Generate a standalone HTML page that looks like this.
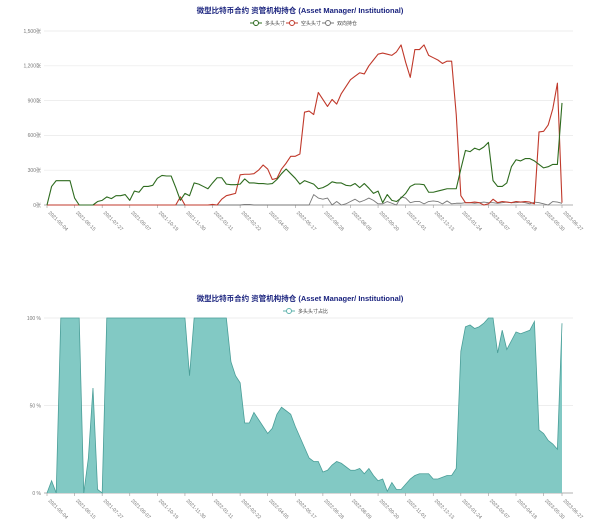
<!DOCTYPE html>
<html><head><meta charset="utf-8">
<style>
html,body{margin:0;padding:0;background:#fff;}
svg{display:block;font-family:"Liberation Sans","Noto Sans CJK SC",sans-serif;}
</style></head>
<body>
<svg id="c" width="600" height="526" viewBox="0 0 600 526"></svg>
<script>
const dates=["2021-05-04","2021-06-15","2021-07-27","2021-09-07","2021-10-19","2021-11-30","2022-01-11","2022-02-22","2022-04-05","2022-05-17","2022-06-28","2022-08-09","2022-09-20","2022-11-01","2022-12-13","2023-01-24","2023-03-07","2023-04-18","2023-05-30","2023-06-27"];
const tickIdx=[0,6,12,18,24,30,36,42,48,54,60,66,72,78,84,90,96,102,108,112];
const yTicks1=[0,300,600,900,1200,1500];
const yTickLabels1=["0张","300张","600张","900张","1,200张","1,500张"];
const yTicks2=[0,50,100];
const yTickLabels2=["0 %","50 %","100 %"];
const longPos=[0,160,210,210,210,210,60,0,0,0,0,30,40,70,55,80,80,90,40,120,110,160,160,170,230,255,250,250,150,40,100,80,190,180,160,140,190,235,235,180,175,175,180,225,190,190,185,185,180,185,220,270,310,270,230,180,210,195,180,140,150,170,200,190,190,170,165,185,150,185,145,100,120,20,90,40,30,60,100,160,180,180,175,110,110,120,130,140,140,140,310,470,460,490,475,500,540,210,160,160,190,330,390,380,400,400,380,350,320,330,350,350,880];
const shortPos=[0,0,0,0,0,0,0,0,0,0,0,0,0,0,0,0,0,0,0,0,0,0,0,0,0,0,0,0,0,70,0,0,0,0,0,0,5,0,50,80,90,100,260,265,265,270,300,345,310,220,230,310,360,420,420,440,800,810,780,970,910,850,910,870,960,1020,1080,1110,1140,1130,1200,1250,1300,1310,1300,1290,1320,1380,1230,1100,1340,1340,1380,1290,1270,1250,1220,1240,1240,780,80,20,20,25,20,0,10,50,20,30,25,20,30,25,30,25,10,630,635,690,830,1050,20];
const spreadPos=[0,0,0,0,0,0,0,0,0,0,0,0,0,0,0,0,0,0,0,0,0,0,0,0,0,0,0,0,0,0,0,0,0,0,0,0,0,0,0,0,0,0,0,5,5,0,0,0,0,0,0,0,0,0,0,0,0,0,90,60,50,60,0,30,0,10,30,50,25,40,60,40,10,10,30,15,0,70,60,20,30,30,10,30,35,30,10,35,10,15,15,20,20,15,20,25,20,20,15,20,25,20,20,25,20,10,25,20,10,0,30,25,15];
const longPct=[0,7,0,100,100,100,100,100,0,20,60,2,0,100,100,100,100,100,100,100,100,100,100,100,100,100,100,100,100,100,100,67,100,100,100,100,100,100,100,100,75,67,63,40,40,46,42,38,34,37,45,49,47,45,38,32,26,20,18,18,12,13,16,18,17,15,13,13,14,11,14,10,7,8,1,6,2,2,5,8,10,11,11,11,8,8,9,10,10,14,81,95,96,94,95,97,100,100,80,93,82,87,92,91,92,93,98,36,34,30,28,25,97];

const NS="http://www.w3.org/2000/svg";
const svg=document.getElementById('c');
function mk(tag,attrs,parent){const e=document.createElementNS(NS,tag);for(const k in attrs)e.setAttribute(k,attrs[k]);(parent||svg).appendChild(e);return e;}
const X0=47,X1=562;
function xs(i,n){return X0+(X1-X0)*i/(n-1);}

function axes(g,top,bot,max,ticks,labels,prefix){
  const ys=v=>bot-(bot-top)*v/max;
  ticks.forEach((t,k)=>{
    const l=mk('line',{x1:X0-3,x2:573,y1:ys(t),y2:ys(t),stroke:t===0?'#999':'#e8e8e8','stroke-width':t===0?0.8:0.7},g);
    
    
    const tx=mk('text',{x:X0-6,y:ys(t)+1.8,'text-anchor':'end','font-size':5,fill:'#777'},g);
    tx.textContent=labels[k];
    
    
  });
  tickIdx.forEach((ti,k)=>{
    const x=xs(ti,113);
    const tk=mk('line',{x1:x,x2:x,y1:bot,y2:bot+3,stroke:'#999','stroke-width':0.6},g);
    
    
    const tx=mk('text',{x:x+1,y:bot+8,'font-size':5,fill:'#777',transform:`rotate(45 ${x+1} ${bot+8})`},g);
    tx.textContent=dates[k];
    
    
  });
  return ys;
}
function title(y,txt,name){
  const t=mk('text',{x:300,y:y,'text-anchor':'middle','font-size':7.5,'font-weight':'bold',fill:'#1a237e'});
  t.textContent=txt;
  
  
}
function legend(x,y,color,label,name){
  const g=mk('g',{});
  
  
  mk('line',{x1:x,x2:x+12,y1:y,y2:y,stroke:color,'stroke-width':1},g);
  mk('circle',{cx:x+6,cy:y,r:2.5,fill:'#fff',stroke:color,'stroke-width':1},g);
  const t=mk('text',{x:x+15,y:y+2,'font-size':5,fill:'#444'},g);
  t.textContent=label;
}
// Chart 1
title(13,'微型比特币合约 资管机构持仓 (Asset Manager/ Institutional)','chart1-title');
legend(250,23,'#2e6b1f','多头头寸','legend-long');
legend(286,23,'#c0392b','空头头寸','legend-short');
legend(322,23,'#777','双向持仓','legend-spread');
const g1=mk('g',{});


const ys1=axes(g1,31,205,1500,yTicks1,yTickLabels1,'chart1');
function line(arr,color,name,w){
  const d=arr.map((v,i)=>(i?'L':'M')+xs(i,arr.length).toFixed(2)+','+ys1(v).toFixed(2)).join('');
  const p=mk('path',{d:d,fill:'none',stroke:color,'stroke-width':w,'stroke-linejoin':'round'},g1);
  
  
}
line(spreadPos,'#777','line-spread',0.9);
line(shortPos,'#c0392b','line-short',1.1);
line(longPos,'#2e6b1f','line-long',1.1);
// Chart 2
title(301,'微型比特币合约 资管机构持仓 (Asset Manager/ Institutional)','chart2-title');
legend(283,311,'#5fb3ad','多头头寸占比','legend-long-pct');
const g2=mk('g',{});


const ys2=axes(g2,318,493,100,yTicks2,yTickLabels2,'chart2');
let d2=longPct.map((v,i)=>(i?'L':'M')+xs(i,longPct.length).toFixed(2)+','+ys2(v).toFixed(2)).join('');
const area=mk('path',{d:d2+`L${X1},${ys2(0)}L${X0},${ys2(0)}Z`,fill:'#82c9c4',stroke:'none'},g2);


const ln=mk('path',{d:d2,fill:'none',stroke:'#4a9e98','stroke-width':0.8},g2);


</script>
</body></html>
